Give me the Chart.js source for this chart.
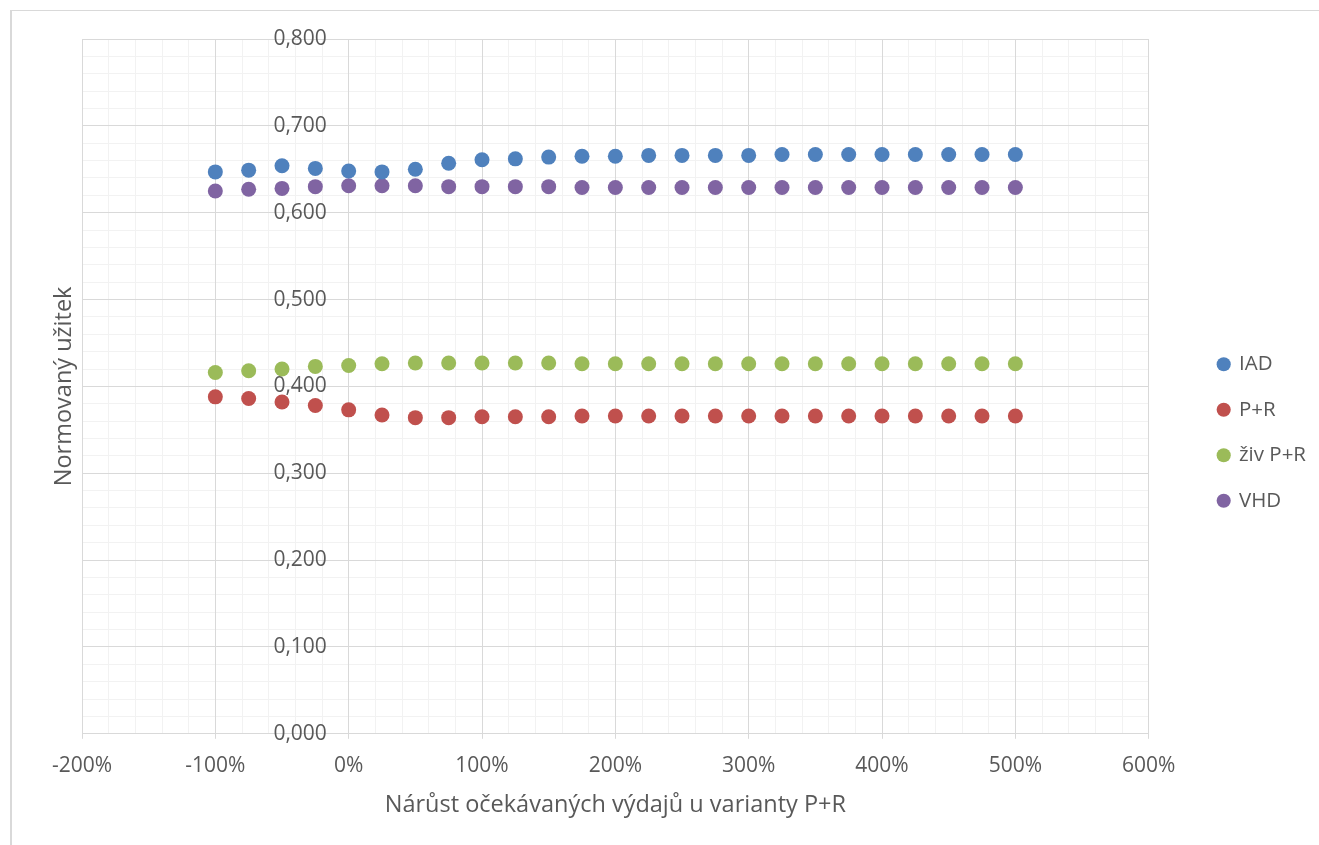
<!DOCTYPE html>
<html>
<head>
<meta charset="utf-8">
<title>Normovaný užitek</title>
<script src="https://cdn.jsdelivr.net/npm/chart.js"></script>
<style>
  html, body { margin: 0; padding: 0; background: #fff; overflow: hidden; }
  .frame {
    position: absolute; left: 10px; top: 10px; width: 1400px; height: 900px;
    border-top: 1px solid #d9d9d9; border-left: 2px solid #d9d9d9;
  }
  .chart-container { position: absolute; left: 0; top: 0; width: 1319px; height: 845px; }
</style>
</head>
<body>
<div class="frame"></div>
<div class="chart-container">
  <canvas id="chart" width="1319" height="845"></canvas>
</div>
<script>
// Data
const xValues = [-100, -75, -50, -25, 0, 25, 50, 75, 100, 125, 150, 175, 200,
  225, 250, 275, 300, 325, 350, 375, 400, 425, 450, 475, 500];
const seriesNames = ['IAD', 'P+R', 'živ P+R', 'VHD'];
const iad = [0.647, 0.649, 0.654, 0.651, 0.648, 0.647, 0.650, 0.657, 0.661, 0.662, 0.664, 0.665, 0.665,
  0.666, 0.666, 0.666, 0.666, 0.667, 0.667, 0.667, 0.667, 0.667, 0.667, 0.667, 0.667];
const pr = [0.388, 0.386, 0.382, 0.378, 0.373, 0.367, 0.364, 0.364, 0.365, 0.365, 0.365, 0.366, 0.366,
  0.366, 0.366, 0.366, 0.366, 0.366, 0.366, 0.366, 0.366, 0.366, 0.366, 0.366, 0.366];
const zivPr = [0.416, 0.418, 0.420, 0.423, 0.424, 0.426, 0.427, 0.427, 0.427, 0.427, 0.427, 0.426, 0.426,
  0.426, 0.426, 0.426, 0.426, 0.426, 0.426, 0.426, 0.426, 0.426, 0.426, 0.426, 0.426];
const vhd = [0.625, 0.627, 0.628, 0.630, 0.631, 0.631, 0.631, 0.630, 0.630, 0.630, 0.630, 0.629, 0.629,
  0.629, 0.629, 0.629, 0.629, 0.629, 0.629, 0.629, 0.629, 0.629, 0.629, 0.629, 0.629];
const colors = ['#4F81BD', '#C0504D', '#9BBB59', '#8064A2'];

const xTitle = 'Nárůst očekávaných výdajů u varianty P+R';
const yTitle = 'Normovaný užitek';

const textColor = '#595959';
const majorGrid = '#d9d9d9';
const minorGrid = '#f2f2f2';
const fontFamily = "'Open Sans', sans-serif";

const datasets = [iad, pr, zivPr, vhd].map((values, i) => ({
  label: seriesNames[i],
  data: values.map((v, j) => ({ x: xValues[j], y: v })),
  backgroundColor: colors[i],
  borderColor: colors[i],
  borderWidth: 0,
  pointRadius: 7.5,
  pointHoverRadius: 7.5,
  pointBorderWidth: 0,
  showLine: false
}));

// hidden scale used only for minor gridlines
function minorScale(axis, step, min, max, pos) {
  return {
    type: 'linear', axis: axis, position: pos, min: min, max: max,
    ticks: { display: false, stepSize: step },
    grid: { color: minorGrid, drawTicks: false, z: -2 },
    border: { display: false }
  };
}

// empty axis that only reserves room (for a title or a gap)
function spacerScale(pos, extra) {
  return Object.assign({
    type: 'linear', axis: 'y', position: pos, min: 0, max: 0.8,
    ticks: { display: false },
    grid: { display: false, drawTicks: false },
    border: { display: false }
  }, extra);
}

new Chart(document.getElementById('chart'), {
  type: 'scatter',
  data: { datasets: datasets },
  options: {
    responsive: false,
    animation: false,
    events: [],
    layout: { padding: { top: 39, left: 0, right: 3, bottom: 19 } },
    plugins: {
      tooltip: { enabled: false },
      legend: {
        position: 'right',
        labels: {
          usePointStyle: true,
          pointStyle: 'circle',
          boxWidth: 10,
          boxHeight: 10,
          padding: 25,
          color: textColor,
          font: { family: fontFamily, size: 20.5 }
        }
      }
    },
    scales: {
      xMinor: minorScale('x', 20, -200, 600, { y: 0 }),
      yMinor: minorScale('y', 0.02, 0, 0.8, { x: 0 }),
      x: {
        type: 'linear', position: 'bottom', min: -200, max: 600,
        ticks: {
          stepSize: 100, padding: 14.4, color: textColor,
          font: { family: fontFamily, size: 21 },
          callback: v => v + '%'
        },
        grid: { color: majorGrid, tickLength: 5 },
        border: { color: majorGrid },
        title: {
          display: true, text: xTitle, color: textColor,
          font: { family: fontFamily, size: 23.5 },
          padding: { top: -2, bottom: 7 }
        }
      },
      y: {
        type: 'linear', position: { x: 0 }, min: 0, max: 0.8,
        ticks: {
          stepSize: 0.1, color: textColor,
          font: { family: fontFamily, size: 21 },
          // labels sit left of the axis at x = 0%
          callback: v => v.toFixed(3).replace('.', ',') + '    '
        },
        grid: { color: majorGrid, tickLength: 7 },
        border: { color: majorGrid }
      },
      yTitle: spacerScale('left', {
        title: {
          display: true, text: yTitle, color: textColor,
          font: { family: fontFamily, size: 23.5 },
          padding: { top: 50, bottom: 3.8 }
        }
      }),
      gap: spacerScale('right', { afterFit: s => { s.width = 45; } })
    }
  }
});
</script>
</body>
</html>
